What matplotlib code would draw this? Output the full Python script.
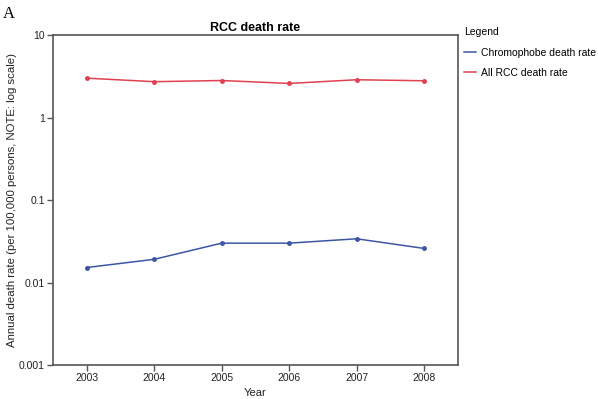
import matplotlib
matplotlib.use("Agg")
import matplotlib.pyplot as plt

years = [2003, 2004, 2005, 2006, 2007, 2008]
chromophobe = [0.0152, 0.0191, 0.030, 0.030, 0.0339, 0.0259]
all_rcc = [3.0, 2.72, 2.81, 2.59, 2.87, 2.79]
yticks = [0.001, 0.01, 0.1, 1, 10]
ytick_labels = ["0.001", "0.01", "0.1", "1", "10"]

blue = "#3d56a3"
red = "#e0404f"
grey = "#555555"

plt.rcParams["font.family"] = ["Liberation Sans", "DejaVu Sans"]

fig = plt.figure(figsize=(5.98, 3.99), dpi=100)
ax = fig.add_axes([0.0886, 0.0852, 0.677, 0.827])

ax.plot(years, chromophobe, color=blue, lw=1.1, marker="o", ms=2.5,
        label="Chromophobe death rate")
ax.plot(years, all_rcc, color=red, lw=1.1, marker="o", ms=2.5,
        label="All RCC death rate")

ax.set_yscale("log")
ax.set_ylim(0.001, 10)
ax.set_yticks(yticks)
ax.set_yticklabels(ytick_labels)
ax.minorticks_off()
ax.set_xlim(2002.5, 2008.5)
ax.set_xticks(years)
ax.set_xticklabels([str(y) for y in years])

for s in ax.spines.values():
    s.set_color(grey)
    s.set_linewidth(1.2)
ax.tick_params(colors=grey, labelcolor="#222222", labelsize=7.5, length=4,
               width=1, pad=2)

ax.set_xlabel("Year", fontsize=8, color="#222222", labelpad=3)
ax.set_ylabel("Annual death rate (per 100,000 persons, NOTE: log scale)",
              fontsize=8.2, color="#222222", labelpad=1)
ax.set_title("RCC death rate", fontsize=9, fontweight="bold", pad=3)

leg = ax.legend(loc="upper left", bbox_to_anchor=(1.01, 1.03), frameon=False,
                fontsize=7.5, title="Legend", title_fontsize=7.5,
                handlelength=1.15, handletextpad=0.5, borderaxespad=0,
                labelspacing=1.0, borderpad=0.2)
leg._legend_box.align = "left"
for h in leg.legend_handles:
    h.set_marker("")

fig.text(0.005, 0.965, "A", fontsize=12, family="Liberation Serif", va="center")

fig.savefig("out.png", dpi=100)
